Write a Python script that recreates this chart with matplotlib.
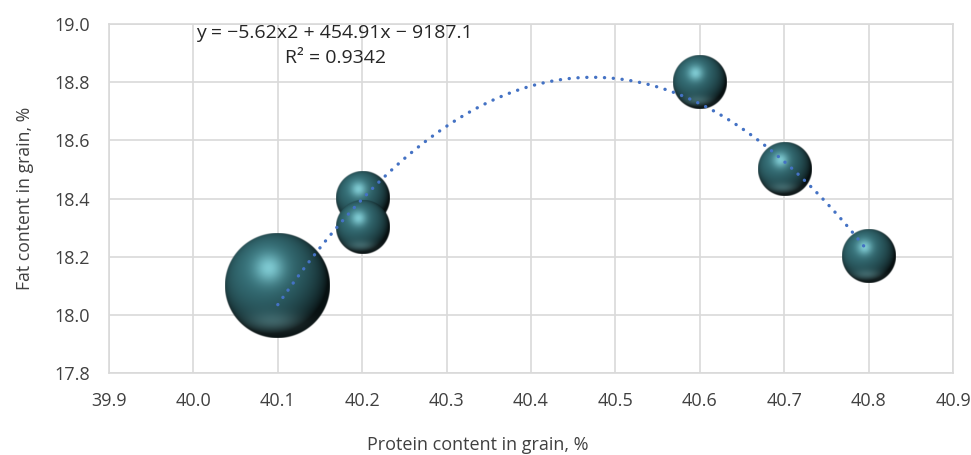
import numpy as np
import matplotlib
matplotlib.use("Agg")
import matplotlib.pyplot as plt

plt.rcParams['font.family'] = ['Open Sans', 'DejaVu Sans']

# ---- data ----
protein = [40.1, 40.2, 40.2, 40.6, 40.7, 40.8]
fat = [18.1, 18.4, 18.3, 18.8, 18.5, 18.2]
bubble_size = [3.9, 1.0, 1.0, 1.0, 1.0, 1.0]
x_ticks = [39.9, 40.0, 40.1, 40.2, 40.3, 40.4, 40.5, 40.6, 40.7, 40.8, 40.9]
y_ticks = [17.8, 18.0, 18.2, 18.4, 18.6, 18.8, 19.0]
eq_text = "y = \u22125.62x2 + 454.91x \u2212 9187.1"
r2_text = "R\u00b2 = 0.9342"
x_label = "Protein content in grain, %"
y_label = "Fat content in grain, %"

W, H, DPI = 971, 455, 100
fig = plt.figure(figsize=(W / DPI, H / DPI), dpi=DPI)
ax = fig.add_axes([109 / W, (H - 373) / H, 844 / W, 349 / H])
ax.set_xlim(x_ticks[0], x_ticks[-1])
ax.set_ylim(y_ticks[0], y_ticks[-1])
ax.set_xticks(x_ticks)
ax.set_yticks(y_ticks)
ax.set_xticklabels([f"{v:.1f}" for v in x_ticks])
ax.set_yticklabels([f"{v:.1f}" for v in y_ticks])
grid_c = "#d9d9d9"
ax.grid(True, color=grid_c, lw=1.2, zorder=0)
ax.set_axisbelow(True)
for s in ax.spines.values():
    s.set_color(grid_c)
    s.set_linewidth(1.2)
ax.tick_params(length=0, labelsize=13, colors="#404040")
ax.tick_params(axis='x', pad=14)
ax.tick_params(axis='y', pad=14)
fig.text(478 / W, 10 / H, x_label, ha='center', va='center', fontsize=13,
         color="#404040")
ax.set_ylabel(y_label, fontsize=12.7, color="#404040", labelpad=14)


def sphere_rgba(rpx, scale=4):
    n = int(2 * rpx * scale)
    c = (np.arange(n) + 0.5) / n * 2 - 1
    u, v = np.meshgrid(c, -c)
    r = np.sqrt(u ** 2 + v ** 2)
    z = np.sqrt(np.clip(1 - r ** 2, 0, 1))
    L = np.array([-0.3, 0.4, 0.87]); L = L / np.linalg.norm(L)
    d = np.clip(u * L[0] + v * L[1] + z * L[2], 0, 1)
    base = np.array([0.20, 0.42, 0.45])
    col = base[None, None, :] * (0.15 + 0.92 * d[..., None] ** 0.9)
    # soft highlight
    hl = np.exp(-(((u + 0.16) ** 2 + (v - 0.33) ** 2) / 0.08))
    col += np.array([0.28, 0.34, 0.34])[None, None, :] * hl[..., None]
    # bottom reflection
    refl = np.exp(-(((u + 0.05) ** 2) / 0.3 + ((v + 0.70) ** 2) / 0.035))
    col += np.array([0.14, 0.17, 0.17])[None, None, :] * refl[..., None]
    col = np.clip(col, 0, 1)
    alpha = np.clip((1 - r) * rpx + 0.5, 0, 1)
    return np.dstack([col, alpha])


fig.canvas.draw()
px_per_x = ax.transData.transform((1, 0))[0] - ax.transData.transform((0, 0))[0]
px_per_y = ax.transData.transform((0, 1))[1] - ax.transData.transform((0, 0))[1]
max_r = 52.5
smax = max(bubble_size)
for i, (xv, yv, sv) in enumerate(zip(protein, fat, bubble_size)):
    rpx = max_r * np.sqrt(sv / smax)
    img = sphere_rgba(rpx)
    hx = rpx / px_per_x
    hy = rpx / px_per_y
    ax.imshow(img, extent=[xv - hx, xv + hx, yv - hy, yv + hy],
              interpolation='bilinear', zorder=2 + i * 0.01, aspect='auto')
ax.set_xlim(x_ticks[0], x_ticks[-1])
ax.set_ylim(y_ticks[0], y_ticks[-1])

# polynomial trendline (order 2) fitted to the points
coef = np.polyfit(protein, fat, 2)
xs = np.linspace(min(protein), max(protein), 300)
ax.plot(xs, np.polyval(coef, xs), color="#4472c4", lw=2.4,
        linestyle=(0, (0.05, 2.6)), dash_capstyle='round', zorder=5)

ax.text(40.167, 18.969, eq_text, ha='center', va='center', fontsize=14,
        color="#262626", zorder=6)
ax.text(40.168, 18.883, r2_text, ha='center', va='center', fontsize=14,
        color="#262626", zorder=6)

fig.savefig("out.png", dpi=DPI)
